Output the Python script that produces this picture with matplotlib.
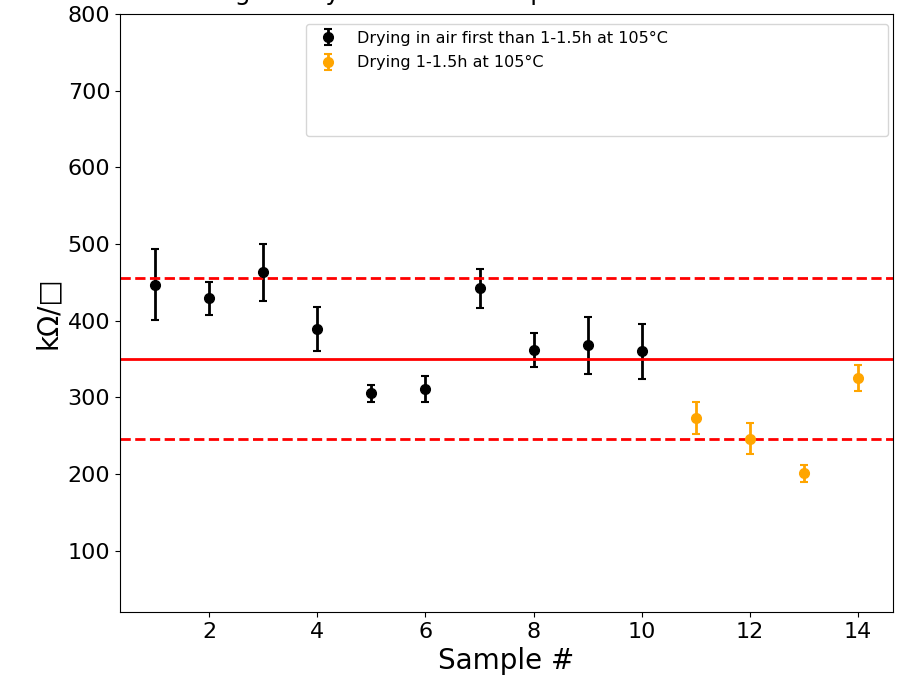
import numpy as np
import matplotlib
matplotlib.use('Agg')
import matplotlib.pyplot as plt
from matplotlib.lines import Line2D

# samples dried in air first, then 1-1.5h at 105 C
air_x = [1, 2, 3, 4, 5, 6, 7, 8, 9, 10]
air_r = [447, 429, 463, 389, 305, 311, 442, 362, 368, 360]
air_err = [46, 22, 37, 29, 11, 17, 25, 22, 37, 36]

# samples dried 1-1.5h at 105 C only
oven_x = [11, 12, 13, 14]
oven_r = [273, 246, 201, 325]
oven_err = [21, 20, 11, 17]

mean_r = 350
band_hi = 455
band_lo = 245

fig = plt.figure(figsize=(8.99, 6.93), dpi=100)
ax = fig.add_axes([0.1335, 0.1169, 0.86, 0.8629])

ax.errorbar(air_x, air_r, yerr=air_err, fmt='o', color='black', ms=7,
            elinewidth=2, capsize=3, capthick=1.5,
            label='Drying in air first than 1-1.5h at 105°C')
ax.errorbar(oven_x, oven_r, yerr=oven_err, fmt='o', color='orange', ms=7,
            elinewidth=2, capsize=3, capthick=1.5,
            label='Drying 1-1.5h at 105°C')

ax.axhline(mean_r, color='red', lw=2)
ax.axhline(band_hi, color='red', lw=2, ls='--')
ax.axhline(band_lo, color='red', lw=2, ls='--')

ax.set_ylim(20, 800)
ax.set_xticks([2, 4, 6, 8, 10, 12, 14])
ax.tick_params(labelsize=16)
ax.set_xlabel('Sample #', fontsize=20)
ax.set_ylabel('kΩ/□', fontsize=20)
# title sits mostly above the top edge, as in the reference
ax.set_title('Long air dry time then sample resistance at 105°C', fontsize=18, pad=10)

handles, labels = ax.get_legend_handles_labels()
handles.append(Line2D([], [], color='none'))
labels.append('Mean value of the reference samples and of their tolerance band\n(red lines)\n ')
leg = ax.legend(handles, labels, loc='upper left', bbox_to_anchor=(0.2406, 0.983),
                fontsize=11.5, borderaxespad=0, labelspacing=0.6)
leg.get_texts()[2].set_color('white')

fig.savefig('out.png', dpi=100)
